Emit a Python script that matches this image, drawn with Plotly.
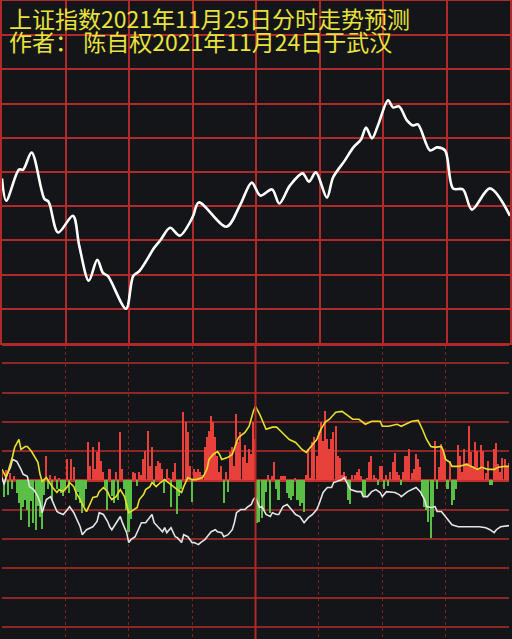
import plotly.graph_objects as go

# ---------------- data ----------------
title_line1 = "上证指数2021年11月25日分时走势预测"
title_line2 = "作者： 陈自权2021年11月24日于武汉"

# upper panel: predicted intraday curve (minute, level in grid units)
up_min = [0, 2, 8, 10, 14, 20, 22, 26.5, 33.5, 36.5, 41, 45, 47.7, 50, 58.6, 62, 65,
          72, 75, 79.4, 84, 90, 93, 106, 112.4, 118, 122, 127.6, 131, 136, 142, 145,
          148.3, 153.5, 156.4, 162, 166, 169.6, 172, 174.8, 177.6, 182.4, 184.7,
          187.6, 191.3, 194.2, 196.5, 202.2, 205.5, 209.3, 213.1, 217.8, 222, 230.5, 240]
up_val = [4.81, 4.16, 5.07, 5.07, 5.57, 4.22, 4.13, 3.23, 3.72, 2.84, 1.82, 2.43,
          2.05, 1.96, 1.00, 1.96, 2.11, 2.79, 3.02, 3.37, 3.14, 3.67, 4.11, 3.40,
          4.02, 4.69, 4.31, 4.49, 4.08, 4.60, 4.96, 4.72, 4.99, 4.25, 4.84, 5.34,
          5.72, 5.95, 6.30, 5.98, 6.36, 7.10, 6.89, 6.92, 6.51, 6.36, 6.39, 5.63,
          5.72, 5.63, 4.52, 4.49, 3.90, 4.52, 3.72]

# lower panel: per-minute bars
bar_val = [
    0.3, -0.55, 0.35, -0.5, 0.25, -0.3, 0.15, -0.42, -0.76, -1.34,
    -0.9, -0.65, -1.0, -1.58, -0.7, -1.44, -1.68, -0.88, -1.23, -1.64,
    -0.5, 0.82, -0.3, 0.2, -0.65, 0.15, -0.3, 0.1, -0.42, -0.53,
    -0.3, 0.72, -0.42, 0.72, 0.45, -0.65, -0.4, -0.76, -1.1, -0.88,
    -0.3, 1.3, 0.5, 1.13, 0.4, 0.96, 1.3, 0.65, 0.3, -0.3,
    -1.0, 0.38, -0.53, -0.76, 0.3, -0.65, 1.64, 0.4, -0.3, -1.0,
    -1.75, -1.3, 0.3, 0.25, -0.2, 0.3, 0.2, 0.72, 1.0, 1.68,
    0.48, 1.16, -0.15, 0.48, 0.65, 0.6, 0.38, -0.42, 0.38, 0.1,
    -0.92, 0.3, 0.6, -1.16, -0.53, -0.3, 2.33, 2.0, 1.64, 0.48,
    -0.72, 0.38, 0.3, 0.38, 0.3, 0.2, 1.13, 1.47, 1.7, 2.2,
    2.0, 1.47, 0.82, 0.3, 0.48, -0.76, 0.3, -0.38, 0.96, 1.13,
    0.5, 2.26, 1.3, 1.64, 0.8, 1.2, 0.6, 1.06, 0.9, 2.0,
    1.4, -1.44, -1.4, -1.27, -1.0, -0.4, 0.2, -1.1, 0.15, 0.62,
    -0.3, -0.65, 0.17, 0.15, 0.17, -0.42, -0.6, -0.65, -0.53, 0.1,
    -0.65, -0.88, -0.76, -1.06, 0.2, 1.06, 0.1, 1.3, 1.5, 0.82,
    1.64, 2.0, 1.34, 2.36, 1.4, 1.06, 1.4, 1.64, 1.85, 0.82,
    0.76, 0.2, 0.3, 0.15, -0.65, -0.8, 0.2, 0.2, 0.3, 0.4,
    0.15, -0.53, -0.53, 0.1, 0.62, 0.82, 0.2, 0.1, -0.15, 0.48,
    0.48, -0.3, 0.2, -0.2, 0.3, 0.62, 0.95, 0.3, 0.2, -0.15,
    0.3, 0.82, 0.82, 1.06, 0.25, 0.4, 0.9, 0.72, 0.45, -0.53,
    -0.92, -1.0, -1.4, -1.95, -1.23, 1.34, -0.3, 0.45, 1.26, 1.06,
    0.82, -0.3, 0.65, -0.82, -0.65, -0.3, 1.2, 0.82, 0.3, 1.06,
    0.6, 1.85, 0.96, 0.48, 1.3, 1.0, 0.4, 1.2, 1.0, 0.25,
    0.65, -0.15, -0.15, 1.06, 1.28, 0.55, 0.3, 0.76, 0.72, 0.5,
    0.6]
bar_min = list(range(len(bar_val)))

# lower panel yellow line
yel_min = [0, 2, 5, 6, 8, 9, 11, 12, 14, 17, 18, 19, 21, 23, 24, 26, 27, 29, 31, 32,
           34, 35, 37, 38, 40, 42, 43, 45, 46, 48, 50, 51, 52, 54, 56, 58, 60, 61, 64,
           65, 67, 68, 70, 71, 73, 75, 77, 78, 81, 83, 85, 86, 88, 90, 92, 95, 97, 98,
           100, 102, 103, 104, 107, 109, 111, 112, 115, 117, 119, 120, 122, 125, 128,
           130, 132, 136, 139, 142, 144, 146, 149, 151, 153, 155, 158, 161, 164, 166,
           169, 172, 175, 179, 180, 183, 187, 189, 194, 197, 199, 201, 203, 205, 208,
           209, 210, 212, 213, 216, 220, 222, 225, 227, 230, 233, 235, 238, 240]
yel_val = [0.38, 0.10, 0.82, 1.13, 1.40, 1.06, 1.16, 1.16, 0.99, 0.62, 0.21, -0.03,
           0.10, -0.14, -0.24, -0.41, -0.31, -0.38, -0.21, -0.07, -0.21, -0.41, -0.65,
           -0.82, -1.06, -0.75, -0.58, -0.55, -0.38, -0.24, -0.38, -0.55, -0.65, -0.55,
           -0.31, -0.55, -1.10, -1.06, -0.92, -0.65, -0.48, -0.31, -0.21, -0.07, -0.21,
           -0.07, 0.03, -0.03, -0.21, -0.31, -0.41, -0.21, 0.10, 0.03, 0.03, 0.10, 0.38,
           0.72, 0.89, 0.99, 0.89, 0.72, 0.79, 0.89, 1.30, 1.47, 1.64, 1.85, 2.36, 2.53,
           2.26, 1.75, 1.82, 1.82, 1.68, 1.40, 1.30, 1.06, 0.96, 1.13, 1.40, 1.75, 1.99,
           2.09, 2.33, 2.36, 2.19, 2.09, 2.09, 1.92, 2.02, 2.02, 1.85, 1.85, 1.92, 1.85,
           2.02, 2.05, 1.75, 1.40, 1.16, 1.13, 1.16, 0.99, 0.72, 0.62, 0.48, 0.48, 0.55,
           0.48, 0.38, 0.45, 0.38, 0.38, 0.45, 0.48, 0.48]

# lower panel white line
wht_min = [0, 1, 2, 4, 5, 7, 9, 10, 12, 13, 15, 17, 18, 19, 21, 23, 24, 26, 27, 29,
           31, 32, 34, 35, 37, 38, 40, 43, 45, 46, 48, 50, 51, 52, 54, 56, 57, 59, 60,
           61, 63, 64, 66, 68, 69, 71, 72, 74, 76, 77, 78, 80, 82, 83, 85, 86, 88, 90,
           91, 93, 94, 96, 97, 99, 101, 102, 104, 105, 107, 109, 110, 111, 113, 115,
           116, 118, 119, 120, 122, 123, 125, 127, 128, 130, 131, 133, 135, 136, 137,
           139, 141, 143, 145, 147, 149, 150, 152, 154, 156, 157, 159, 161, 162, 163,
           165, 168, 170, 171, 173, 175, 177, 179, 180, 182, 186, 188, 189, 192, 194,
           196, 198, 200, 201, 203, 205, 206, 208, 210, 212, 213, 216, 220, 222, 226,
           229, 231, 233, 234, 236, 239, 240]
wht_val = [0.10, -0.14, 0.14, 0.45, 0.72, 0.65, 0.38, 0.21, 0.14, -0.21, -0.31, -0.55,
           -0.75, -1.10, -0.65, -0.55, -0.72, -1.06, -1.10, -1.16, -0.99, -0.89, -1.10,
           -1.27, -1.58, -1.85, -1.68, -1.58, -1.40, -1.10, -1.16, -1.40, -1.58, -1.68,
           -1.44, -1.23, -1.44, -1.78, -2.12, -2.02, -1.92, -1.75, -1.44, -1.44, -1.34,
           -1.16, -1.44, -1.58, -1.75, -1.61, -1.78, -1.61, -1.92, -1.95, -2.12, -1.85,
           -1.92, -2.12, -2.12, -2.19, -2.12, -2.02, -1.92, -1.75, -1.68, -1.75, -1.78,
           -1.92, -1.85, -1.68, -1.44, -1.10, -0.99, -0.99, -0.92, -0.82, -0.65, -0.58,
           -0.92, -0.89, -1.16, -1.23, -1.10, -1.16, -1.16, -0.89, -0.82, -0.92, -0.99,
           -1.16, -1.23, -1.44, -1.27, -1.16, -0.99, -0.82, -0.41, -0.24, -0.24, -0.07,
           -0.03, 0.03, 0.10, -0.03, -0.31, -0.38, -0.38, -0.55, -0.55, -0.38, -0.31,
           -0.41, -0.55, -0.38, -0.41, -0.48, -0.55, -0.38, -0.31, -0.24, -0.38, -0.65,
           -0.89, -0.92, -0.89, -1.06, -1.06, -1.23, -1.44, -1.51, -1.58, -1.58, -1.58,
           -1.58, -1.61, -1.68, -1.78, -1.68, -1.58, -1.54, -1.54]

# ---------------- styling ----------------
BG = "#141518"
GRID_UP = "#b02a2a"
GRID_LO = "#8e2626"
RED = "#e8403a"
GREEN = "#5cbf45"
YELLOW = "#e6df2e"
TITLE = "#e8e23c"

fig = go.Figure()

fig.add_trace(go.Scatter(x=up_min, y=up_val, mode="lines",
                         line=dict(color="white", width=2.6, shape="spline", smoothing=0.9),
                         xaxis="x", yaxis="y", hoverinfo="skip"))

bar_colors = [RED if v >= 0 else GREEN for v in bar_val]
fig.add_trace(go.Bar(x=bar_min, y=bar_val, marker=dict(color=bar_colors, line=dict(width=0)),
                     width=0.72, xaxis="x2", yaxis="y2", hoverinfo="skip"))

fig.add_trace(go.Scatter(x=wht_min, y=wht_val, mode="lines",
                         line=dict(color="#e4e4e4", width=1.6),
                         xaxis="x2", yaxis="y2", hoverinfo="skip"))
fig.add_trace(go.Scatter(x=yel_min, y=yel_val, mode="lines",
                         line=dict(color=YELLOW, width=1.6),
                         xaxis="x2", yaxis="y2", hoverinfo="skip"))

H, W = 639, 512
fig.update_layout(
    width=W, height=H,
    margin=dict(l=0, r=0, t=0, b=0),
    paper_bgcolor=BG, plot_bgcolor=BG,
    showlegend=False, bargap=0,
    xaxis=dict(domain=[2 / W, 510 / W], range=[0, 240], dtick=30, tick0=0,
               showgrid=True, gridcolor=GRID_UP, gridwidth=2,
               showline=True, mirror=True, linecolor=GRID_UP, linewidth=2,
               showticklabels=False, ticks="", zeroline=False, fixedrange=True),
    yaxis=dict(domain=[1 - 343 / H, 1 - 1 / H], range=[0, 10], dtick=1, tick0=0,
               showgrid=True, gridcolor=GRID_UP, gridwidth=2,
               showline=True, mirror=True, linecolor=GRID_UP, linewidth=2,
               showticklabels=False, ticks="", zeroline=False, fixedrange=True),
    xaxis2=dict(domain=[2 / W, 509 / W], range=[0, 240], dtick=30, tick0=0,
                anchor="y2", showgrid=True, gridcolor="#7a2222", gridwidth=1,
                griddash="dot", showline=True, mirror=True, linecolor="#b02828",
                linewidth=3, showticklabels=False, ticks="", zeroline=False,
                fixedrange=True),
    yaxis2=dict(domain=[0, 1 - 346 / H], range=[-5.41, 4.59], dtick=1, tick0=0,
                anchor="x2", showgrid=True, gridcolor=GRID_LO, gridwidth=2,
                showline=False, showticklabels=False, ticks="",
                zeroline=True, zerolinecolor="#c0302c", zerolinewidth=3,
                fixedrange=True),
)

fig.add_vline(x=120, xref="x2", yref="y2", line=dict(color="#b02828", width=2))

fig.add_annotation(text=title_line1, xref="paper", yref="paper", x=8 / W, y=1.0,
                   xanchor="left", yanchor="top", showarrow=False, borderpad=0,
                   font=dict(family="Noto Sans CJK SC", size=23, color=TITLE))
fig.add_annotation(text=title_line2, xref="paper", yref="paper", x=8 / W, y=1 - 23 / H,
                   xanchor="left", yanchor="top", showarrow=False, borderpad=0,
                   font=dict(family="Noto Sans CJK SC", size=23, color=TITLE))

fig.write_html("out.html", config={"displayModeBar": False},
               post_script="document.body.style.margin='0';document.body.style.background='#141518';")
